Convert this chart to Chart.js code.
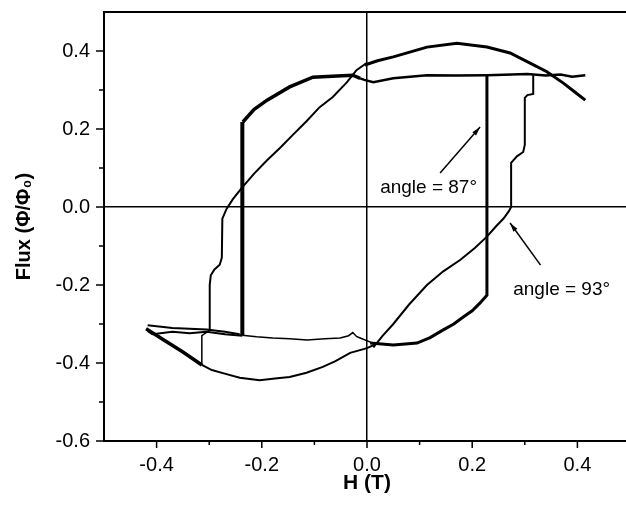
<!DOCTYPE html>
<html lang="en">
<head>
<meta charset="UTF-8">
<title>Flux vs H</title>
<script src="https://cdn.jsdelivr.net/npm/chart.js"></script>
<style>
  html, body { margin: 0; padding: 0; background: #fff; overflow: hidden; }
  #wrap { width: 630px; height: 514px; }
</style>
</head>
<body>
<div id="wrap"><canvas id="fluxChart"></canvas></div>
<script>
// H (T) / Flux (Phi/Phi0), one pair per trace piece

// angle = 87 deg loop
const hTop87 = [0.415, 0.39, 0.368, 0.34, 0.305, 0.26, 0.228, 0.17, 0.114, 0.05, 0.012, -0.005, -0.013];
const fTop87 = [0.338, 0.334, 0.340, 0.337, 0.341, 0.339, 0.338, 0.337, 0.338, 0.330, 0.320, 0.326, 0.330];
const hArch87 = [-0.013, -0.027, -0.057, -0.103, -0.147, -0.19, -0.215, -0.236];
const fArch87 = [0.330, 0.338, 0.336, 0.333, 0.308, 0.274, 0.250, 0.218];
const hJump87 = [-0.237, -0.237];
const fJump87 = [0.218, -0.330];
const hBandA87 = [-0.237, -0.27, -0.305, -0.337, -0.37, -0.408, -0.417];
const fBandA87 = [-0.330, -0.326, -0.320, -0.324, -0.320, -0.326, -0.318];
const hBandB87 = [-0.417, -0.37, -0.305, -0.27, -0.242];
const fBandB87 = [-0.303, -0.310, -0.314, -0.320, -0.326];
const hLowFlat87 = [-0.242, -0.21, -0.179, -0.147, -0.114, -0.08, -0.051, -0.035, -0.027, -0.02, -0.013, 0.011];
const fLowFlat87 = [-0.328, -0.333, -0.336, -0.338, -0.341, -0.338, -0.336, -0.330, -0.322, -0.332, -0.336, -0.349];
const hLowRight87 = [0.006, 0.05, 0.095, 0.12, 0.145, 0.165, 0.183, 0.2, 0.215, 0.228, 0.228];
const fLowRight87 = [-0.349, -0.354, -0.349, -0.335, -0.315, -0.300, -0.282, -0.266, -0.246, -0.226, 0.338];

// angle = 93 deg loop
const hArch93 = [0.415, 0.395, 0.374, 0.342, 0.31, 0.272, 0.228, 0.171, 0.114, 0.05, 0.02, -0.004];
const fArch93 = [0.274, 0.295, 0.317, 0.347, 0.369, 0.395, 0.410, 0.420, 0.410, 0.385, 0.375, 0.364];
const hDown93 = [0.0, -0.02, -0.038, -0.065, -0.09, -0.115, -0.141, -0.165, -0.19, -0.215, -0.238, -0.255, -0.267, -0.275, -0.276, -0.28, -0.29, -0.297, -0.299, -0.299];
const fDown93 = [0.370, 0.351, 0.320, 0.282, 0.256, 0.220, 0.185, 0.152, 0.120, 0.085, 0.049, 0.020, -0.005, -0.030, -0.130, -0.148, -0.160, -0.175, -0.200, -0.316];
const hCorner93 = [-0.299, -0.314, -0.314];
const fCorner93 = [-0.316, -0.330, -0.405];
const hDiag93 = [-0.42, -0.39, -0.35, -0.314];
const fDiag93 = [-0.312, -0.338, -0.372, -0.405];
const hBottom93 = [-0.314, -0.295, -0.274, -0.242, -0.204, -0.175, -0.147, -0.115, -0.084, -0.06, -0.032, 0.0, 0.021];
const fBottom93 = [-0.405, -0.418, -0.426, -0.438, -0.444, -0.440, -0.436, -0.425, -0.410, -0.395, -0.374, -0.362, -0.349];
const hUp93 = [0.012, 0.03, 0.05, 0.08, 0.114, 0.145, 0.177, 0.205, 0.228, 0.245, 0.26, 0.27, 0.274, 0.274, 0.285, 0.297, 0.3, 0.3, 0.305, 0.316, 0.316];
const fUp93 = [-0.360, -0.330, -0.300, -0.250, -0.200, -0.165, -0.136, -0.105, -0.076, -0.050, -0.029, -0.010, 0.0, 0.113, 0.130, 0.141, 0.160, 0.280, 0.287, 0.290, 0.338];

// annotation arrows (tail, tip) and labels
const hArrow87 = [0.139, 0.215];
const fArrow87 = [0.087, 0.205];
const hArrow93 = [0.33, 0.272];
const fArrow93 = [-0.149, -0.041];
const noteText = ['angle = 87\u00b0', 'angle = 93\u00b0'];
const noteH = [0.025, 0.278];
const noteF = [0.036, -0.226];

// axis ticks
const xTicks = [-0.4, -0.3, -0.2, -0.1, 0, 0.1, 0.2, 0.3, 0.4];
const xLabels = ['-0.4', '', '-0.2', '', '0.0', '', '0.2', '', '0.4'];
const yTicks = [-0.6, -0.5, -0.4, -0.3, -0.2, -0.1, 0, 0.1, 0.2, 0.3, 0.4, 0.5];
const yLabels = ['-0.6', '', '-0.4', '', '-0.2', '', '0.0', '', '0.2', '', '0.4', ''];

function pts(hs, fs) {
    return hs.map((h, i) => ({ x: h, y: fs[i] }));
}

function trace(hs, fs, width, color) {
    return {
        data: pts(hs, fs),
        showLine: true,
        borderColor: color || '#000',
        borderWidth: width,
        pointRadius: 0,
        tension: 0,
        fill: false
    };
}

const FONT = '"Liberation Sans", Arial, Helvetica, sans-serif';

// tick marks (major/minor), arrow heads and the two angle labels
const extras = {
    id: 'extras',
    afterDraw(chart) {
        const { ctx, chartArea, scales: { x, y } } = chart;
        ctx.save();
        ctx.strokeStyle = '#000';
        ctx.lineWidth = 1.5;
        ctx.beginPath();
        xTicks.forEach((v, i) => {
            const px = x.getPixelForValue(v);
            const len = xLabels[i] ? 7 : 4;
            ctx.moveTo(px, chartArea.bottom);
            ctx.lineTo(px, chartArea.bottom + len);
        });
        yTicks.forEach((v, i) => {
            if (v >= 0.5) return;
            const py = y.getPixelForValue(v);
            const len = yLabels[i] ? 8 : 5;
            ctx.moveTo(chartArea.left - len, py);
            ctx.lineTo(chartArea.left, py);
        });
        ctx.stroke();

        // small wedge at each arrow tip
        ctx.fillStyle = '#000';
        [[hArrow87, fArrow87], [hArrow93, fArrow93]].forEach(([hs, fs]) => {
            const x0 = x.getPixelForValue(hs[0]), y0 = y.getPixelForValue(fs[0]);
            const x1 = x.getPixelForValue(hs[1]), y1 = y.getPixelForValue(fs[1]);
            const a = Math.atan2(y1 - y0, x1 - x0);
            ctx.beginPath();
            ctx.moveTo(x1, y1);
            ctx.lineTo(x1 - 9 * Math.cos(a) + 2.5 * Math.sin(a), y1 - 9 * Math.sin(a) - 2.5 * Math.cos(a));
            ctx.lineTo(x1 - 9 * Math.cos(a) - 2.5 * Math.sin(a), y1 - 9 * Math.sin(a) + 2.5 * Math.cos(a));
            ctx.closePath();
            ctx.fill();
        });

        ctx.font = '19px ' + FONT;
        ctx.textBaseline = 'alphabetic';
        ctx.textAlign = 'left';
        noteText.forEach((t, i) => {
            ctx.fillText(t, x.getPixelForValue(noteH[i]), y.getPixelForValue(noteF[i]));
        });
        ctx.restore();
    }
};

const ctx = document.getElementById('fluxChart').getContext('2d');
new Chart(ctx, {
    type: 'scatter',
    data: {
        datasets: [
            trace(hTop87, fTop87, 2.5),
            trace(hArch87, fArch87, 3.5),
            trace(hJump87, fJump87, 4),
            trace(hJump87, fJump87, 1.5, '#a0a0a0'),
            trace(hBandA87, fBandA87, 2),
            trace(hBandB87, fBandB87, 2),
            trace(hLowFlat87, fLowFlat87, 1.5),
            trace(hLowRight87, fLowRight87, 3),
            trace(hArch93, fArch93, 3),
            trace(hDown93, fDown93, 2),
            trace(hCorner93, fCorner93, 1.5),
            trace(hDiag93, fDiag93, 3.5),
            trace(hBottom93, fBottom93, 2),
            trace(hUp93, fUp93, 2),
            trace(hArrow87, fArrow87, 1.5),
            trace(hArrow93, fArrow93, 1.5)
        ]
    },
    options: {
        responsive: true,
        maintainAspectRatio: false,
        animation: false,
        layout: { padding: { top: 12, left: 0, right: 0, bottom: 0 } },
        plugins: {
            legend: { display: false },
            tooltip: { enabled: false }
        },
        scales: {
            x: {
                type: 'linear',
                min: -0.5,
                max: 0.5,
                afterBuildTicks: scale => { scale.ticks = xTicks.map(v => ({ value: v })); },
                afterFit: scale => { scale.height = 73; },
                ticks: {
                    autoSkip: false,
                    maxRotation: 0,
                    padding: 12,
                    color: '#000',
                    font: { family: FONT, size: 20 },
                    callback: (v, i) => xLabels[i]
                },
                grid: {
                    drawTicks: false,
                    color: c => (c.tick && c.tick.value === 0) ? '#000' : 'rgba(0,0,0,0)',
                    lineWidth: 1.5
                },
                border: { display: true, color: '#000', width: 2 },
                title: {
                    display: true,
                    text: 'H (T)',
                    color: '#000',
                    font: { family: FONT, size: 21, weight: 'bold' },
                    padding: { top: 0, bottom: 18 }
                }
            },
            y: {
                type: 'linear',
                min: -0.6,
                max: 0.5,
                afterBuildTicks: scale => { scale.ticks = yTicks.map(v => ({ value: v })); },
                afterFit: scale => { scale.width = 104; scale.paddingTop = 0; },
                ticks: {
                    autoSkip: false,
                    padding: 14,
                    color: '#000',
                    font: { family: FONT, size: 20 },
                    callback: (v, i) => yLabels[i]
                },
                grid: {
                    drawTicks: false,
                    color: c => (c.tick && (c.tick.value === 0 || c.tick.value === 0.5)) ? '#000' : 'rgba(0,0,0,0)',
                    lineWidth: c => (c.tick && c.tick.value === 0.5) ? 2 : 1.5
                },
                border: { display: true, color: '#000', width: 2 },
                title: {
                    display: true,
                    text: 'Flux (\u03a6/\u03a6\u2080)',
                    color: '#000',
                    font: { family: FONT, size: 20, weight: 'bold' },
                    padding: { top: 12, bottom: 0 }
                }
            }
        }
    },
    plugins: [extras]
});
</script>
</body>
</html>
